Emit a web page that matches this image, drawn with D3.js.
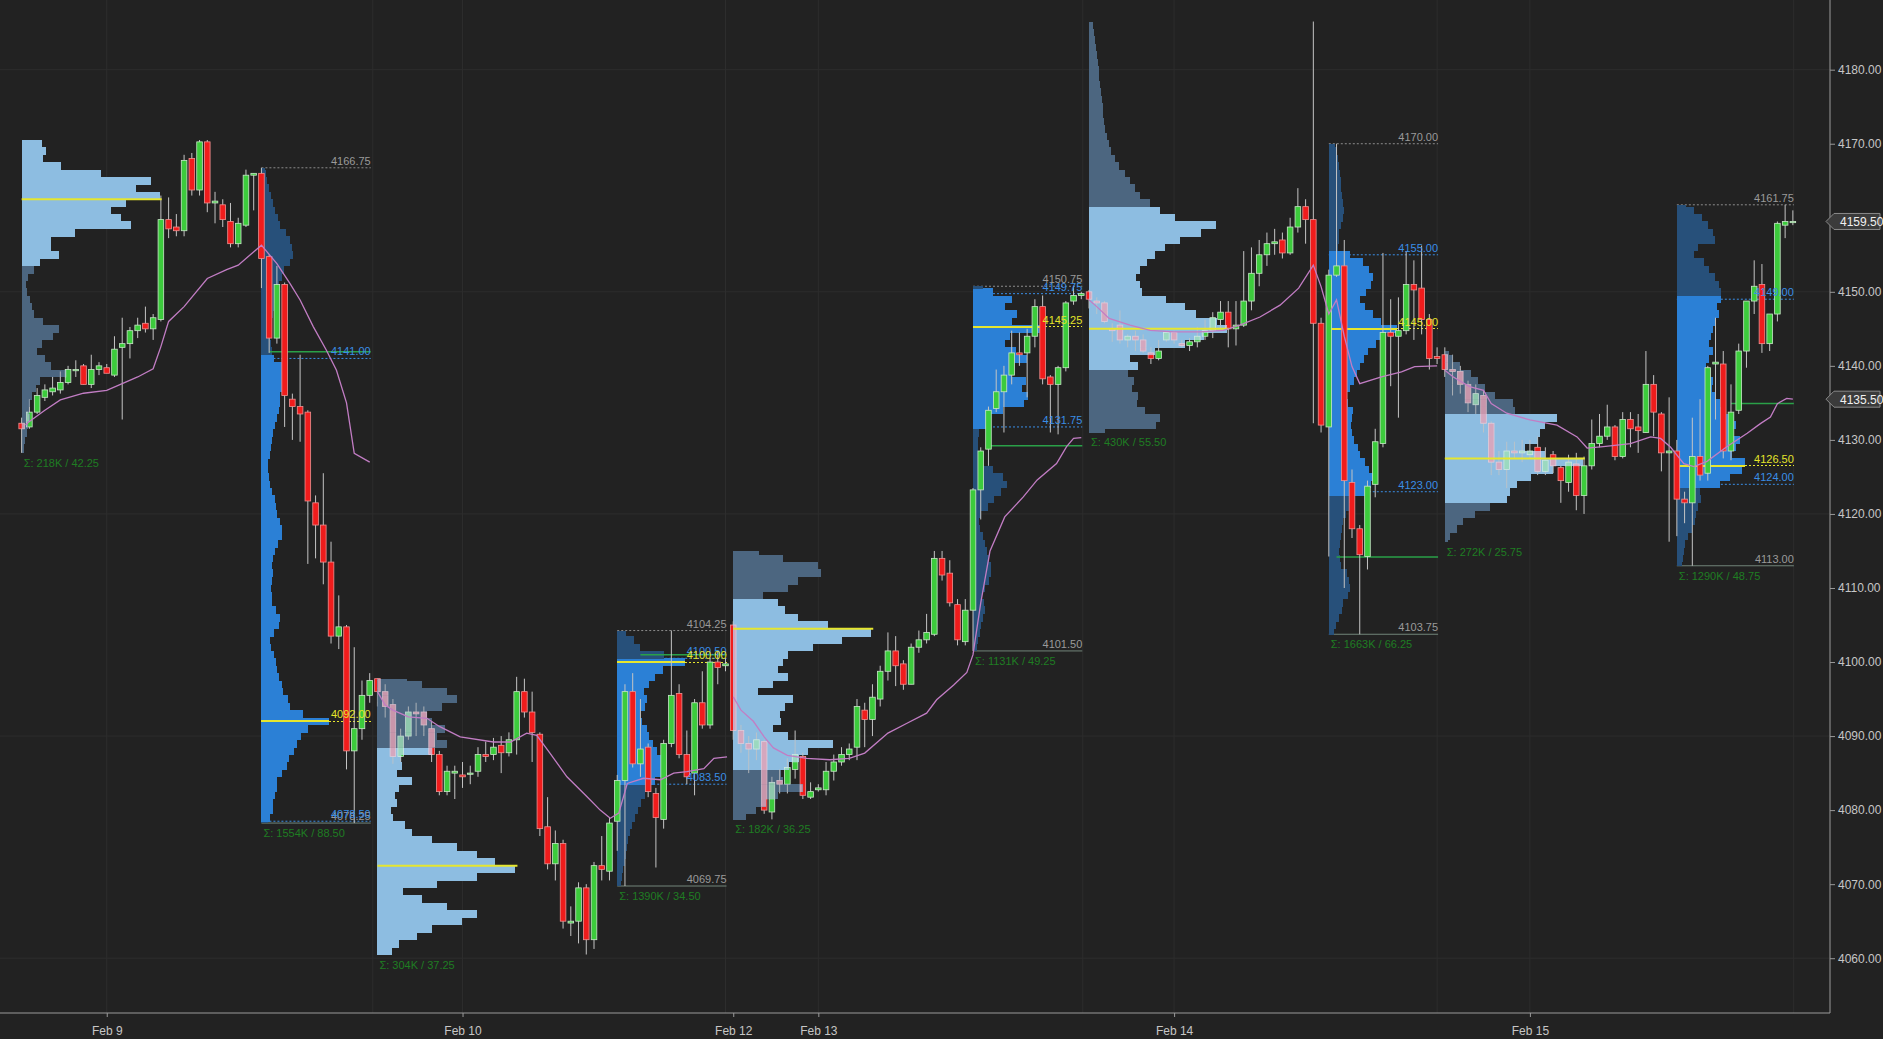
<!DOCTYPE html>
<html><head><meta charset="utf-8">
<script src="https://cdn.jsdelivr.net/npm/d3@7"></script>
<style>html,body{margin:0;padding:0;background:#222222;overflow:hidden}svg{display:block}</style>
</head><body>
<svg id="chart" width="1883" height="1039"></svg>
<script>
// ---------------- DATA ----------------
const opens = [4132.25,4131.75,4133.75,4135.75,4136.5,4136.75,4137.75,4139.5,4140,4137.5,4139.5,4139.75,4138.75,4142.5,4143,4144.75,4145.75,4145,4146.25,4159.75,4158.75,4158.25,4168,4163.75,4170.25,4162,4161.75,4159.5,4156.5,4159,4165.75,
4166,4154.75,4143.75,4151,4135.5,4134.5,4133.75,4121.5,4118.5,4113.5,4103.5,4104.75,4088,4091,4095.5,
4097.75,4096,4094.25,4087.25,4090,4093.25,4093.25,4091,4087.5,4082.5,4085,4084.75,4085,4085.25,4087.5,4087.5,4088.75,4087.75,4089.5,4096,4093.25,4090.25,4077.75,4072.75,4075.5,4064.75,4065,4069.5,4062.5,4072.5,4071.75,
4078.5,4084,4096,4086.25,4088.5,4082.25,4078.75,4089,4095.75,4087.5,4085,4094.5,4091.5,4100,4099.5,
4105,4090.75,4089,4088.25,4089.25,4079.75,4084,4083.5,4085.5,4087.25,4081.75,4082.75,4082.75,4085.25,4086.5,4087.5,4088.5,4093.5,4092.25,4095,4098.75,4101.5,4099.75,4097,4102,4103,4103.75,4114,4112,4107.75,4102.75,
4107,4123.25,4128.75,4134.25,4136.5,4138.75,4141.75,4141.75,4144,4148,4138.5,4137.5,4139.75,4148.75,4149.5,
4150,4148.75,4148.5,4145,4145.5,4143.5,4144,4143.5,4141.75,4141,4143.5,4144.5,4143,4142.75,4143.25,4144,4144.75,4146.25,4147.25,4145,4145.5,4148.75,4152.5,4155,4156.5,4157,4155.25,4158.75,4161.5,4159.75,4145.75,
4131.75,4152.25,4153.5,4124.25,4118,4114.25,4124,4129.5,4144.5,4144,4144.75,4151,4150.5,4146.25,4141.25,
4141.5,4139.5,4139.25,4137.5,4134.75,4136,4132.25,4127,4126,4128.5,4128.25,4128,4129,4125.75,4128,4126.25,4124.25,4126.75,4122.5,4126.5,4129.5,4130.5,4131.75,4127.75,4132.75,4131.75,4131,4137.5,4133.5,4128.25,
4128.5,4122,4121.5,4127.75,4125.5,4140.25,4140.25,4128.5,4134,4142,4148.75,4151,4143,4147,4159,4159.5];
const highs = [4133,4135.5,4137,4137.5,4138.5,4139.25,4140,4140.75,4140.25,4141.5,4140.5,4140.25,4144,4146.5,4145.25,4146.5,4148,4147,4163,4162.75,4160.5,4168.5,4168.75,4170.5,4170.5,4163.5,4162.5,4162,4160,4166.5,4166,
4166.75,4155,4153.5,4151.25,4136.25,4141.5,4134,4122.5,4125.5,4116.25,4109,4105,4102,4097.5,4098.5,
4097.75,4097,4095,4091,4094,4094.5,4094,4092,4088,4086,4086,4086.5,4086,4088.5,4089.25,4089.75,4090,4090.5,4098,4097.75,4096,4090.5,4081.75,4077.25,4076,4067,4070.25,4070,4073,4076.5,4079,
4084.75,4097,4098.5,4095,4089,4083,4089.5,4104.25,4097,4090.75,4095,4098.75,4100.5,4101.5,4100.5,
4105.5,4091.5,4090,4090.5,4089.5,4084.5,4085.5,4087,4090.75,4087.75,4083.75,4083.5,4086.5,4087.5,4088.5,4089,4095,4094.5,4097,4099.5,4104,4103.5,4100.25,4102.5,4104.25,4106.5,4115,4115,4113.75,4108.5,4108.5,
4123.5,4129,4134.5,4139.5,4140,4144.75,4144.5,4145,4149,4149.5,4138.75,4140,4148.75,4150.75,4150,
4150.25,4149.25,4148.75,4145.75,4147.5,4144.25,4144.75,4144.25,4142.5,4143.5,4144.75,4144.75,4143.5,4143.75,4145.25,4146.25,4147.25,4148.75,4148.75,4148.75,4155.5,4156,4157,4158,4158.5,4158,4160,4164,4162.5,4186.5,4146.5,
4153,4170,4157,4126,4118.5,4124.5,4131.5,4155.25,4149,4149.25,4155.5,4154.25,4156.25,4147,4142.5,
4142.5,4141.5,4140,4138,4137.5,4136.75,4132.5,4128.5,4129.75,4129.75,4130,4130,4130.5,4129,4128.5,4126.5,4128,4128.25,4127.75,4132.75,4133.5,4134.75,4132,4133.75,4133.75,4133.5,4142,4138.75,4133.75,4135.75,
4130,4123,4133,4135.5,4140,4146.5,4142,4137.5,4143,4148.75,4154.25,4153.75,4147,4159.5,4161.75,4161];
const lows = [4128.25,4131.5,4133.5,4135.25,4136,4136.25,4137.5,4138.5,4137.5,4137,4138.75,4139,4138.5,4132.75,4141,4143.75,4144.5,4143.5,4146,4157.25,4157.5,4157.5,4163,4163,4160.75,4159.25,4158.75,4156,4156,4158.75,4161,
4150.5,4141.75,4143,4131.75,4130,4129.75,4113.25,4114,4110.5,4102.5,4101.75,4085.5,4078.25,4089.5,4094.5,
4094,4092.5,4086.25,4086.5,4089.5,4090,4090,4086.5,4082,4082,4081.5,4083,4083.5,4084.5,4086.5,4086.75,4085,4087.25,4087.5,4092.5,4086.5,4076.5,4072,4070.5,4064,4063,4062,4060.5,4061.25,4070.5,4070.5,
4074.5,4069.75,4085.75,4084.5,4081.75,4072.25,4077.5,4088.5,4087,4083.5,4082,4091,4091,4097,4098.75,
4089.5,4087.75,4085,4086.75,4079.5,4078.75,4082.25,4082.25,4084.25,4081.5,4081.5,4082.5,4082,4084,4086,4086.75,4086.75,4088.5,4090,4094,4097.5,4096.75,4096.25,4097,4101.25,4102.5,4103.5,4111,4107.5,4102.25,4102.25,
4101.5,4119.25,4126.5,4133.75,4131,4137.5,4140,4135.75,4142.5,4137.5,4131,4130.75,4139.25,4148.25,4149,
4147.75,4147,4145.75,4143.25,4143,4142.5,4142,4141.75,4140.25,4140.75,4143.25,4143,4142.5,4142,4142.5,4143.5,4143.75,4145,4142.5,4142.75,4145.25,4147.5,4150.75,4153.5,4155,4154.5,4155,4158,4156.5,4132.25,4131,
4114.25,4152,4110,4116.75,4103.75,4112.5,4122.25,4129,4137.25,4133,4144.25,4143.5,4144.25,4139.5,4140.25,
4138.5,4136,4136.25,4133.75,4133.5,4131,4125.25,4125.25,4123.5,4127.5,4127,4127.5,4125.25,4125.25,4125.5,4121.5,4123,4120.5,4120,4126,4129,4130,4127.25,4127.5,4129,4128.25,4131,4130.5,4125.75,4116.25,
4117,4118.75,4113,4124.5,4124.5,4132.75,4127.5,4127.25,4133.5,4139.75,4147,4141.75,4142,4146,4157.25,4159];
const closes = [4131.5,4133.75,4136,4136.75,4137,4137.75,4139.5,4139.5,4137.5,4139.5,4140,4139,4142.25,4143,4144.75,4145.5,4145,4146.5,4159.75,4158.5,4158.25,4167.75,4163.75,4170.25,4162,4162.25,4159.75,4156.5,4159.25,4165.75,4166,
4154.5,4143.75,4151,4136,4134.5,4133.5,4121.75,4118.5,4113.5,4103.5,4104.75,4088,4091,4095.5,4097.5,
4096,4094,4087.25,4090,4093.25,4093,4091.5,4087.5,4082.5,4085.25,4085.25,4084.5,4085,4087.5,4087.25,4088.5,4087.75,4089.5,4096,4093.25,4090.5,4077.5,4072.75,4075.5,4065,4065,4069.5,4062.5,4072.5,4072,4078.25,
4084,4096,4086.25,4088.25,4082.5,4079,4089,4095.5,4087.5,4084.5,4094.5,4091.5,4100,4099.25,4099.75,
4090.75,4089,4088.25,4089.5,4080,4083.75,4083.5,4085.75,4087.5,4082,4082.5,4083,4085.25,4086.5,4087.5,4088.25,4094,4092.25,4095.25,4098.75,4101.5,4099.5,4097,4102,4103,4104,4114,4111.75,4108,4103,4107,
4123.25,4128.5,4134,4136.5,4138.75,4141.75,4141.5,4144,4148,4138.25,4137.5,4139.75,4148.5,4149.5,4149.75,
4149,4148.5,4146,4144.75,4143.5,4144,4143.5,4142,4141,4142,4144.5,4143.5,4142.75,4143.25,4144,4144.75,4146.5,4147.25,4145,4145.5,4148.75,4152.5,4155,4156.5,4156.75,4155.25,4158.75,4161.5,4159.75,4145.75,4132,
4152.25,4153.5,4124.5,4118,4114.5,4123.75,4129.75,4144.5,4144,4144.75,4151,4150.25,4146.25,4141,4141,
4139.5,4139.25,4137.5,4135,4136.25,4132.25,4127,4126,4128.5,4128.25,4128.5,4128.5,4125.75,4127.25,4126.5,4124.5,4127,4122.5,4126.5,4129.5,4130.5,4131.75,4127.75,4132.75,4131.5,4131.25,4137.5,4133.75,4128.25,4128.5,
4122,4121.5,4127.75,4125.25,4139.75,4140.5,4128.5,4133.75,4142,4148.75,4150.75,4143,4147,4159.25,4159.5,4159.5];

// Session profiles (ETH = overnight, RTH = day session)
const profType  = ["eth","rth","eth","rth","eth","rth","eth","rth","eth","rth"];
const profStart = [0,31,46,77,92,123,138,169,184,214];
const profEnd   = [30,45,76,91,122,137,168,183,213,229];
const profHigh  = [4170.5,4166.75,4097.75,4104.25,4115,4150.75,4186.5,4170,4142,4161.75];
const profLow   = [4128.25,4078.25,4060.5,4069.75,4078.75,4101.5,4131,4103.75,4116.25,4113];
const profVAH   = [4170.5,4141,4088.7,4100.5,4108.2,4149.75,4161,4155,4133.4,4149];
const profVAL   = [4154,4078.5,4060.5,4083.5,4085.4,4131.75,4140.1,4123,4122,4124];
const profPOC   = [4162.5,4092,4072.5,4100,4104.5,4145.25,4145,4145,4127.5,4126.5];
const profVolText   = ["218K","1554K","304K","1390K","182K","1131K","430K","1663K","272K","1290K"];
const profRangeText = ["42.25","88.50","37.25","34.50","36.25","49.25","55.50","66.25","25.75","48.75"];
const profBinStart  = [4128,4078,4060,4069,4079,4101,4131,4104,4116,4113];
const profVol1  = [2,2,3,5,6,8,7,8,10,14,18,45,30,24,15,20,32,38,22,12,10,8,5,4,6,12,18,38,30,30,54,110,100,90,105,139,115,130,80,40,22,25,20];
const profVol2  = [6,8,11,11,13,15,15,20,25,27,32,35,38,45,66,40,28,26,21,20,17,15,14,12,9,8,12,17,18,14,10,10,9,10,11,10,11,13,16,20,20,18,15,14,13,10,8,7,6,6,8,9,10,11,13,15,17,18,18,20,21,22,20,12,10,9,8,9,10,11,12,13,15,17,20,22,28,31,30,28,24,18,16,13,11,9,7,5,4,3];
const profVol3  = [5,15,22,40,55,85,100,70,45,26,60,100,138,118,100,80,55,35,28,16,14,20,18,22,35,20,25,24,55,70,60,68,55,50,65,80,70,45,30];
const profVol4  = [3,4,5,6,7,8,9,10,12,14,17,20,23,27,32,36,44,47,42,38,34,30,28,24,22,27,28,26,30,36,44,65,45,22,16,8];
const profVol5  = [13,23,33,45,70,50,48,56,66,75,100,55,40,48,47,52,60,25,40,55,45,50,55,80,110,139,95,65,52,45,30,55,65,88,85,50,26];
const profVol6  = [4,4,5,7,8,10,12,11,9,12,16,18,18,16,14,12,10,7,6,8,15,21,28,34,30,20,10,7,5,5,6,16,18,30,52,56,50,54,40,38,55,44,32,38,69,40,45,32,40,20,10];
const profVol7  = [16,66,70,55,47,48,42,44,38,48,40,65,95,113,136,126,105,95,76,52,50,46,50,57,65,75,90,110,125,85,70,60,50,45,40,35,30,26,22,20,18,16,15,14,14,13,12,11,10,10,9,8,7,6,5,4];
const profVol8  = [5,7,10,13,14,18,20,19,17,12,11,10,11,12,13,14,16,19,22,37,40,43,38,35,30,28,24,22,21,22,23,18,15,20,24,27,30,34,37,45,52,65,50,42,35,30,36,40,42,38,33,20,9,10,10,12,14,15,14,13,12,12,11,10,9,8,6];
const profVol9  = [3,5,12,18,30,45,62,65,72,86,108,138,100,80,93,95,100,112,70,68,50,40,33,26,15,8,4];
const profVol10 = [5,6,7,9,12,16,19,20,22,25,24,45,55,68,71,58,62,66,58,62,60,50,45,40,37,38,34,30,34,38,34,36,38,40,44,42,46,46,44,40,34,28,18,22,40,38,33,26,18,10];

// green reference lines inside RTH profiles
const greenProfile = [1,3,5,7,9];
const greenPrice   = [4141.9,4101,4129.2,4114.2,4134.9];
const greenStart   = [32,80,125,170,221];

// session VWAP readings [bar, price]
const vwapDay1 = [[0.5,4132],[1,4132.5],[3,4134],[5,4135.4],[8,4136.3],[11,4136.7],[13,4137.6],[15,4138.5],[17,4139.6],[18,4142.6],[19,4146],[21,4148],[24,4151.8],[26.5,4153],[28,4153.6],[31,4156.3],[33,4153.8],[34.7,4151.1],[36,4148.9],[37.7,4145.3],[39.4,4142.1],[40.7,4139.4],[42,4135],[43,4128.2],[45,4127]];
const vwapDay2 = [[46,4096],[47,4094.2],[48,4093.5],[50,4092.6],[52.4,4092.4],[54,4091.3],[56.7,4089.9],[61,4089.2],[63.2,4089.2],[65.3,4090.4],[66.6,4090.1],[68.3,4087.7],[70.5,4084.5],[73.1,4081.8],[74.8,4080],[76.1,4078.9],[77.2,4079.6],[78.3,4083.6],[80.4,4084.3],[82.6,4084.1],[84.3,4085],[86,4085.2],[88.2,4085.6],[89.5,4087],[91.2,4087.2]];
const vwapDay3 = [[92,4095.3],[93,4093.5],[94.6,4092],[96,4089.9],[97.2,4088.4],[99,4087.4],[101.5,4087],[104.5,4086.8],[107,4087],[109,4087.7],[112,4090.4],[114.4,4091.7],[117,4093.1],[118.3,4094.9],[120.5,4096.9],[122.2,4098.6],[123,4101],[124,4108],[125.2,4115],[127.1,4119.6],[129.5,4122.3],[131.3,4124.6],[133.8,4126.8],[135.1,4129.1],[136,4130.2],[137,4130.3]];
const vwapDay4 = [[138,4148.9],[139,4148],[140.6,4146.4],[143.3,4145.5],[145.9,4144.8],[148.9,4144.6],[152.3,4144.6],[155.4,4144.8],[157.5,4145.5],[160.1,4146.6],[162.7,4148.2],[165.1,4150.5],[167,4153.6],[168,4150.7],[169,4147],[170,4148.9],[171,4144],[172,4139.9],[173,4137.6],[175.8,4138.5],[178.4,4139.2],[180.1,4139.9],[183,4140]];
const vwapDay5 = [[184,4139.4],[185.1,4138.5],[187.2,4137.2],[189,4136.7],[190,4134.9],[192,4133.6],[195,4132.7],[198.5,4132],[201.1,4130.4],[202.4,4128.9],[204.5,4129.1],[208,4129.5],[210.6,4130.4],[211.9,4130.2],[213.2,4129],[214.9,4126.8],[216.2,4126.4],[217.9,4127.1],[220.5,4129.1],[223.1,4130.9],[224.8,4132.2],[226.1,4133.1],[227,4134.9],[228.2,4135.6],[229,4135.5]];

// axis tick labels (4160 is covered by the last-price marker in the original)
const priceTicks = [4060,4070,4080,4090,4100,4110,4120,4130,4140,4150,4170,4180];
const gridPrices = [4060,4090,4120,4150,4180];
const dateTickBars = [11,57,92,103,149,195];
const dateTickLabels = ["Feb 9","Feb 10","Feb 12","Feb 13","Feb 14","Feb 15"];
const gridBars = [11,45.4,57,91,103,137.2,149,183,195,229.1];
const markerPrices = [4159.5,4135.5];

// ---------------- DRAW ----------------
const svg = d3.select("#chart");
const W = 1883, H = 1039, plotR = 1830, plotB = 1013;
const X = d3.scaleLinear().domain([-2.8, 233.8]).range([0, plotR]);
const Y = d3.scaleLinear().domain([4052.6, 4189.41]).range([plotB, 0]);
const bodyW = 5.6;
const labelFont = "'Liberation Sans', Arial, sans-serif";
const axisFont = "'Liberation Sans Narrow', 'Arial Narrow', 'Liberation Sans', Arial, sans-serif";

svg.append("rect").attr("width", W).attr("height", H).attr("fill", "#222222");

const gGrid = svg.append("g");
gGrid.selectAll("line.h").data(gridPrices).join("line")
  .attr("x1", 0).attr("x2", plotR).attr("y1", d => Y(d)).attr("y2", d => Y(d))
  .attr("stroke", "#2d2d2d").attr("stroke-width", 1);
gGrid.selectAll("line.v").data(gridBars).join("line")
  .attr("x1", d => X(d)).attr("x2", d => X(d)).attr("y1", 0).attr("y2", plotB)
  .attr("stroke", "#2d2d2d").attr("stroke-width", 1);

const profVols = [profVol1,profVol2,profVol3,profVol4,profVol5,profVol6,profVol7,profVol8,profVol9,profVol10];
const ETH_W = 138, RTH_W = 68;
const colors = {ethVA: "#8dbde1", ethOut: "#4c6680", rthVA: "#2b80d6", rthOut: "#27507a"};

function profileRows(k) {
  const vols = profVols[k];
  const maxV = d3.max(vols);
  const maxW = profType[k] === "eth" ? ETH_W : RTH_W;
  const w = d3.scaleLinear().domain([0, maxV]).range([0, maxW]);
  const x0 = X(profStart[k]);
  const rows = [];
  vols.forEach((v, j) => {
    const p = profBinStart[k] + j;
    const lo = Math.max(p - 0.5, profLow[k]);
    const hi = Math.min(p + 0.5, profHigh[k]);
    if (hi <= lo) return;
    const inVA = p >= profVAL[k] - 0.25 && p <= profVAH[k] + 0.25;
    rows.push({x: x0, y: Y(hi), w: w(v), h: Y(lo) - Y(hi) + 0.4, inVA});
  });
  return rows;
}

// RTH profiles with reference lines
const gRthLines = svg.append("g");
const gRth = svg.append("g").attr("shape-rendering", "crispEdges");
profType.forEach((t, k) => {
  if (t !== "rth") return;
  const x0 = X(profStart[k]), x1 = X(profEnd[k]) + 1;
  [profVAH[k], profVAL[k]].forEach(v => {
    gRthLines.append("line").attr("x1", x0).attr("x2", x1).attr("y1", Y(v)).attr("y2", Y(v))
      .attr("stroke", "#3a8ee6").attr("stroke-width", 1).attr("stroke-dasharray", "2,2");
  });
  gRthLines.append("line").attr("x1", x0).attr("x2", x1).attr("y1", Y(profHigh[k])).attr("y2", Y(profHigh[k]))
    .attr("stroke", "#8c8c8c").attr("stroke-width", 1).attr("stroke-dasharray", "2,2");
  gRthLines.append("line").attr("x1", x0).attr("x2", x1).attr("y1", Y(profLow[k])).attr("y2", Y(profLow[k]))
    .attr("stroke", "#72857a").attr("stroke-width", 1);
  gRth.selectAll(null).data(profileRows(k)).join("rect")
    .attr("x", d => d.x).attr("y", d => d.y).attr("width", d => d.w).attr("height", d => d.h)
    .attr("fill", d => d.inVA ? colors.rthVA : colors.rthOut);
  gRth.append("line").attr("x1", x0).attr("x2", x0 + RTH_W).attr("y1", Y(profPOC[k])).attr("y2", Y(profPOC[k]))
    .attr("stroke", "#e6e62e").attr("stroke-width", 2);
  gRth.append("line").attr("x1", x0 + RTH_W).attr("x2", x1).attr("y1", Y(profPOC[k])).attr("y2", Y(profPOC[k]))
    .attr("stroke", "#e6e62e").attr("stroke-width", 1).attr("stroke-dasharray", "2,2");
});

// green reference lines
greenProfile.forEach((k, i) => {
  svg.append("line").attr("x1", X(greenStart[i])).attr("x2", X(profEnd[k]) + 1)
    .attr("y1", Y(greenPrice[i])).attr("y2", Y(greenPrice[i]))
    .attr("stroke", "#2aa048").attr("stroke-width", 1.5);
});

// candles
const bars = d3.range(opens.length).map(i => ({i, o: opens[i], h: highs[i], l: lows[i], c: closes[i]}));
function drawCandles(g, data, up, down, upStroke, downStroke) {
  g.selectAll("line.w").data(data).join("line")
    .attr("x1", d => X(d.i)).attr("x2", d => X(d.i))
    .attr("y1", d => Y(d.h)).attr("y2", d => Y(d.l))
    .attr("stroke", "#c4c4c4").attr("stroke-width", 1);
  g.selectAll("rect.b").data(data).join("rect")
    .attr("x", d => X(d.i) - bodyW / 2)
    .attr("y", d => Y(Math.max(d.o, d.c)))
    .attr("width", bodyW)
    .attr("height", d => Math.max(1.2, Math.abs(Y(d.o) - Y(d.c))))
    .attr("fill", d => d.c >= d.o ? up : down)
    .attr("stroke", d => d.c >= d.o ? upStroke : downStroke)
    .attr("stroke-width", 0.8);
}
drawCandles(svg.append("g"), bars, "#3ccb3c", "#f01c1c", "#c8e8c8", "#f09090");

// ETH profiles (opaque) + washed candles clipped to them
const defs = svg.append("defs");
const clip = defs.append("clipPath").attr("id", "ethClip");
const gEth = svg.append("g").attr("shape-rendering", "crispEdges");
profType.forEach((t, k) => {
  if (t !== "eth") return;
  const rows = profileRows(k);
  gEth.selectAll(null).data(rows).join("rect")
    .attr("x", d => d.x).attr("y", d => d.y).attr("width", d => d.w).attr("height", d => d.h)
    .attr("fill", d => d.inVA ? colors.ethVA : colors.ethOut);
  clip.selectAll(null).data(rows).join("rect")
    .attr("x", d => d.x).attr("y", d => d.y).attr("width", d => d.w).attr("height", d => d.h);
});
const ethBars = bars.filter(b => profType.some((t, k) => t === "eth" && b.i >= profStart[k] && b.i <= profEnd[k]));
const gWash = svg.append("g").attr("clip-path", "url(#ethClip)").attr("opacity", 0.8);
drawCandles(gWash, ethBars, "#9fe0b8", "#e8a2b6", "#dff5e6", "#f6d0da");
profType.forEach((t, k) => {
  if (t !== "eth") return;
  const x0 = X(profStart[k]);
  svg.append("line").attr("x1", x0).attr("x2", x0 + ETH_W + 2).attr("y1", Y(profPOC[k])).attr("y2", Y(profPOC[k]))
    .attr("stroke", "#e6e62e").attr("stroke-width", 2);
});

// VWAP lines
const line = d3.line().x(d => X(d[0])).y(d => Y(d[1]));
[vwapDay1, vwapDay2, vwapDay3, vwapDay4, vwapDay5].forEach(v => {
  svg.append("path").attr("d", line(v)).attr("fill", "none")
    .attr("stroke", "#c27dc4").attr("stroke-width", 1.3);
});

// profile labels
const gLbl = svg.append("g").attr("font-family", labelFont).attr("font-size", 11);
profType.forEach((t, k) => {
  const x0 = X(profStart[k]), x1 = X(profEnd[k]) + 1;
  if (t === "rth") {
    const items = [
      [profLow[k], "#9a9a9a"], [profHigh[k], "#9a9a9a"],
      [profVAL[k], "#3a8ee6"], [profVAH[k], "#3a8ee6"], [profPOC[k], "#e4e42a"]
    ];
    items.forEach(([v, c]) => {
      gLbl.append("text").attr("x", x1).attr("y", Y(v) - 3).attr("text-anchor", "end")
        .attr("fill", c).text(d3.format(".2f")(v));
    });
  }
  gLbl.append("text").attr("x", x0 + 2).attr("y", Y(profLow[k]) + 14)
    .attr("fill", "#1f7d22").text("\u03A3: " + profVolText[k] + " / " + profRangeText[k]);
});

// axes
const yAxis = d3.axisRight(Y).tickValues(priceTicks).tickFormat(d3.format(".2f")).tickSize(5).tickPadding(3);
const gy = svg.append("g").attr("transform", `translate(${plotR},0)`).call(yAxis);
gy.select(".domain").attr("stroke", "#9a9a9a").attr("d", `M0,0V${plotB}`);
gy.selectAll(".tick line").attr("stroke", "#9a9a9a");
gy.selectAll(".tick text").attr("fill", "#c6c6c6").attr("font-family", axisFont).attr("font-size", 12);

const xAxis = d3.axisBottom(X).tickValues(dateTickBars).tickFormat((d, i) => dateTickLabels[i]).tickSize(4).tickPadding(9);
const gx = svg.append("g").attr("transform", `translate(0,${plotB})`).call(xAxis);
gx.select(".domain").attr("stroke", "#9a9a9a").attr("d", `M0,0H${plotR}`);
gx.selectAll(".tick line").attr("stroke", "#9a9a9a");
gx.selectAll(".tick text").attr("fill", "#c6c6c6").attr("font-family", axisFont).attr("font-size", 12);

// price markers on the axis
markerPrices.forEach(v => {
  const yy = Y(v);
  svg.append("path")
    .attr("d", `M${plotR - 4},${yy} L${plotR + 4},${yy - 8} L${W - 3},${yy - 8} L${W - 3},${yy + 8} L${plotR + 4},${yy + 8} Z`)
    .attr("fill", "#3b3b3b").attr("stroke", "#8a8a8a").attr("stroke-width", 1);
  svg.append("text").attr("x", plotR + 10).attr("y", yy + 4.5)
    .attr("fill", "#f0f0f0").attr("font-family", axisFont).attr("font-size", 12).text(d3.format(".2f")(v));
});
</script>
</body></html>
